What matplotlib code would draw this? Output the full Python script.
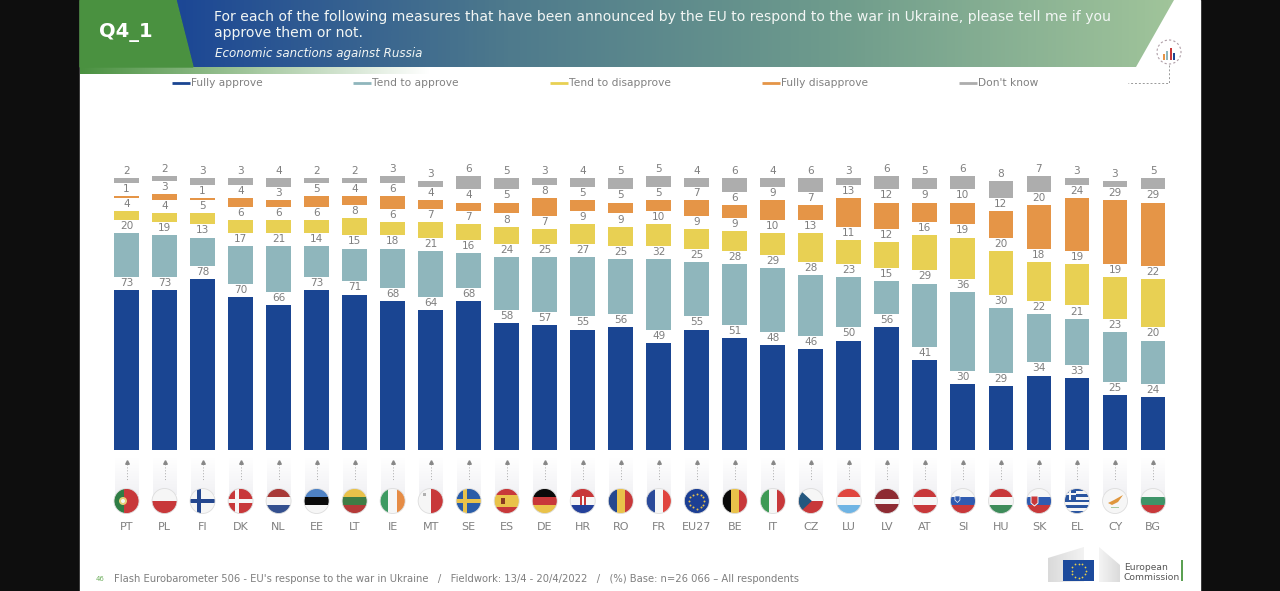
# Q4_1 approval of EU sanctions per country - stacked columns with gaps
import numpy as np
import matplotlib
matplotlib.use("Agg")
import matplotlib.pyplot as plt
from matplotlib.patches import Polygon, Rectangle, Circle
from matplotlib.colors import LinearSegmentedColormap

# Data
countries = ["PT", "PL", "FI", "DK", "NL", "EE", "LT", "IE", "MT", "SE", "ES", "DE", "HR", "RO",
             "FR", "EU27", "BE", "IT", "CZ", "LU", "LV", "AT", "SI", "HU", "SK", "EL", "CY", "BG"]
fully_approve = [73, 73, 78, 70, 66, 73, 71, 68, 64, 68, 58, 57, 55, 56,
                 49, 55, 51, 48, 46, 50, 56, 41, 30, 29, 34, 33, 25, 24]
tend_approve = [20, 19, 13, 17, 21, 14, 15, 18, 21, 16, 24, 25, 27, 25,
                32, 25, 28, 29, 28, 23, 15, 29, 36, 30, 22, 21, 23, 20]
tend_disapprove = [4, 4, 5, 6, 6, 6, 8, 6, 7, 7, 8, 7, 9, 9,
                   10, 9, 9, 10, 13, 11, 12, 16, 19, 20, 18, 19, 19, 22]
fully_disapprove = [1, 3, 1, 4, 3, 5, 4, 6, 4, 4, 5, 8, 5, 5,
                    5, 7, 6, 9, 7, 13, 12, 9, 10, 12, 20, 24, 29, 29]
dont_know = [2, 2, 3, 3, 4, 2, 2, 3, 3, 6, 5, 3, 4, 5,
             5, 4, 6, 4, 6, 3, 6, 5, 6, 8, 7, 3, 3, 5]

series_names = ["Fully approve", "Tend to approve", "Tend to disapprove", "Fully disapprove", "Don't know"]
series_values = [fully_approve, tend_approve, tend_disapprove, fully_disapprove, dont_know]
series_colors = ["#1A4592", "#8FB6BC", "#E8D053", "#E59547", "#ADADAD"]
legend_x = [172, 353, 550, 762, 959]

title = ("For each of the following measures that have been announced by the EU to respond to the war in Ukraine, please tell me if you\n"
         "approve them or not.")
subtitle = "Economic sanctions against Russia"
footer = ("Flash Eurobarometer 506 - EU's response to the war in Ukraine   /   "
          "Fieldwork: 13/4 - 20/4/2022   /   (%) Base: n=26 066 – All respondents")

# Flag colours
RED, WHITE, GOLD = "#C8383A", "#F6F6F6", "#E9C24A"
horizontal = {
    "PL": [WHITE, RED], "NL": ["#A83A38", WHITE, "#34508F"], "EE": ["#4F82C4", "#0A0A0A", WHITE],
    "LT": [GOLD, "#3F7D45", "#B53A38"], "ES": [RED, GOLD, GOLD, RED], "DE": ["#0A0A0A", RED, GOLD],
    "HR": [RED, WHITE, "#24409A"], "LU": ["#E0463F", WHITE, "#6FB4E4"], "LV": ["#8E2B33", "#8E2B33", WHITE, "#8E2B33", "#8E2B33"],
    "AT": [RED, WHITE, RED], "SI": [WHITE, "#2F5BB0", RED], "HU": [RED, WHITE, "#3E8C5A"],
    "SK": [WHITE, "#2F5BB0", RED], "BG": [WHITE, "#3E9468", RED], "CZ": [WHITE, RED],
    "EL": ["#2A55A0", WHITE, "#2A55A0", WHITE, "#2A55A0", WHITE, "#2A55A0", WHITE, "#2A55A0"],
}
vertical = {
    "PT": ["#2F7D45", "#2F7D45", RED, RED, RED], "IE": ["#3E9A62", WHITE, "#E68C45"], "MT": [WHITE, RED],
    "RO": ["#24478F", GOLD, RED], "FR": ["#2A4A9A", WHITE, "#E0453F"], "BE": ["#0A0A0A", GOLD, RED],
    "IT": ["#3E9A55", WHITE, RED],
}
crosses = {"FI": (WHITE, "#24478F"), "DK": (RED, WHITE), "SE": ("#2A5CA8", GOLD)}

fig = plt.figure(figsize=(12.8, 5.91), dpi=100, facecolor="#0E0E0E")

# Pixel canvas for the slide furniture
bg = fig.add_axes([0, 0, 1, 1])
bg.set_xlim(0, 1280)
bg.set_ylim(591, 0)
bg.axis("off")
bg.add_patch(Rectangle((80, 0), 1120, 591, color="white", zorder=0))

# Header band
band_cmap = LinearSegmentedColormap.from_list("band", ["#1C4795", "#4E7A8C", "#6F9C8C", "#A0C49A"])
band = bg.imshow(np.linspace(0, 1, 256).reshape(1, -1), cmap=band_cmap, extent=(176, 1174, 67, 0),
                 aspect="auto", zorder=1, interpolation="bilinear")
band.set_clip_path(Polygon([(176, 0), (1174, 0), (1136, 67), (193, 67)], transform=bg.transData))
bg.add_patch(Polygon([(80, 0), (176, 0), (193, 67), (80, 67)], color="#4A9140", zorder=2))
shadow_cmap = LinearSegmentedColormap.from_list("shadow", ["#4A9140", "#FFFFFF"])
bg.imshow(np.linspace(0, 1, 128).reshape(1, -1), cmap=shadow_cmap, extent=(80, 430, 74, 67),
          aspect="auto", zorder=1, interpolation="bilinear")
bg.set_xlim(0, 1280)
bg.set_ylim(591, 0)

bg.text(126, 32, "Q4_1", color="white", fontsize=14, fontweight="bold", ha="center", va="center", zorder=3)
bg.text(214, 25, title, color="#F2F6F4", fontsize=10.12, va="center", linespacing=1.2, zorder=3)
bg.text(215, 54, subtitle, color="#F2F6F4", fontsize=8.6, style="italic", va="center", zorder=3)

# Legend
for name, color, lx in zip(series_names, series_colors, legend_x):
    bg.plot([lx, lx + 18], [83, 83], color=color, lw=2, solid_capstyle="butt")
    bg.text(lx + 19, 83.5, name, color="#808080", fontsize=7.7, va="center")

# Small chart icon top right
bg.add_patch(Circle((1169, 52), 12, fill=False, ec="#B0A0A8", lw=0.8, ls=(0, (2, 2))))
for ix, h, c in [(1163, 6, "#E59547"), (1166, 9, "#8FB6BC"), (1169.5, 12, "#C8383A"), (1173, 7, "#1A4592")]:
    bg.add_patch(Rectangle((ix, 60 - h), 2.4, h, color=c, lw=0))
bg.plot([1169, 1169, 1128], [65, 83, 83], color="#999999", lw=0.7, ls=(0, (2, 2)))

# Stacked columns
BAR_LEFT, BAR_STEP = 126.5, 38.02
BASE_Y, PX_PER_UNIT = 450, 2.19
GAP = 6  # white space between segments, in percent units

ax = fig.add_axes([(BAR_LEFT - BAR_STEP / 2) / 1280, (591 - BASE_Y) / 591,
                   BAR_STEP * len(countries) / 1280, 130 * PX_PER_UNIT / 591])
ax.patch.set_alpha(0)
x = np.arange(len(countries))
bottom = np.zeros(len(countries))
for name, values, color in zip(series_names, series_values, series_colors):
    bars = ax.bar(x, values, width=0.655, bottom=bottom, color=color, label=name)
    ax.bar_label(bars, labels=[str(v) for v in values], padding=1.5, fontsize=7.6, color="#7F7F7F")
    bottom = bottom + np.array(values) + GAP
ax.set_xlim(-0.5, len(countries) - 0.5)
ax.set_ylim(0, 130)
ax.set_xticks(x)
ax.set_xticklabels(countries, fontsize=8, color="#808080")
ax.tick_params(axis="x", length=0, pad=52)
ax.set_yticks([])
for spine in ax.spines.values():
    spine.set_visible(False)

# Dotted arrows with a pale column behind
fade = LinearSegmentedColormap.from_list("fade", ["#FFFFFF", "#F1F1F4"])
for i in range(len(countries)):
    cx = BAR_LEFT + BAR_STEP * i
    bg.imshow(np.linspace(0, 1, 32).reshape(-1, 1), cmap=fade, extent=(cx - 12, cx + 12, 495, 457),
              aspect="auto", zorder=1)
    bg.plot([cx, cx], [464, 480], color="#AAAAAA", lw=0.7, ls=(0, (1, 2)), zorder=2)
    bg.plot([cx], [462], marker="^", ms=2.6, color="#888888", zorder=2)
bg.set_xlim(0, 1280)
bg.set_ylim(591, 0)

# Flags, clipped to circles
FLAG_Y, R = 501, 12.5
for i, code in enumerate(countries):
    cx = BAR_LEFT + BAR_STEP * i
    clip = Circle((cx, FLAG_Y), R, transform=bg.transData)
    parts = []
    if code in horizontal:
        stripes = horizontal[code]
        for k, c in enumerate(stripes):
            parts.append(Rectangle((cx - R, FLAG_Y - R + k * 2 * R / len(stripes)), 2 * R, 2 * R / len(stripes), color=c, lw=0))
    elif code in vertical:
        stripes = vertical[code]
        for k, c in enumerate(stripes):
            parts.append(Rectangle((cx - R + k * 2 * R / len(stripes), FLAG_Y - R), 2 * R / len(stripes), 2 * R, color=c, lw=0))
    elif code in crosses:
        base, cross = crosses[code]
        parts.append(Rectangle((cx - R, FLAG_Y - R), 2 * R, 2 * R, color=base, lw=0))
        parts.append(Rectangle((cx - R, FLAG_Y - 2), 2 * R, 4, color=cross, lw=0))
        parts.append(Rectangle((cx - 5.5, FLAG_Y - R), 4, 2 * R, color=cross, lw=0))
    elif code == "EU27":
        parts.append(Rectangle((cx - R, FLAG_Y - R), 2 * R, 2 * R, color="#1C3F94", lw=0))
    elif code == "CY":
        parts.append(Rectangle((cx - R, FLAG_Y - R), 2 * R, 2 * R, color=WHITE, lw=0))
        parts.append(Polygon([(cx - 7, FLAG_Y + 2), (cx - 1, FLAG_Y - 1), (cx + 8, FLAG_Y - 6), (cx + 3, FLAG_Y + 1), (cx - 3, FLAG_Y + 4)],
                             color="#E0963C", lw=0))
        parts.append(Rectangle((cx - 4, FLAG_Y + 6), 8, 1, color="#A8C8A0", lw=0))
    # extras on top of the stripes
    if code == "CZ":
        parts.append(Polygon([(cx - R, FLAG_Y - R), (cx + 1, FLAG_Y), (cx - R, FLAG_Y + R)], color="#24577F", lw=0))
    if code == "EL":
        parts.append(Rectangle((cx - R, FLAG_Y - R), 11, 11, color="#2A55A0", lw=0))
        parts.append(Rectangle((cx - R, FLAG_Y - R + 4.5), 11, 2, color=WHITE, lw=0))
        parts.append(Rectangle((cx - R + 4.5, FLAG_Y - R), 2, 11, color=WHITE, lw=0))
    if code == "PT":
        parts.append(Circle((cx - 3.5, FLAG_Y), 4, color="#E6D27A", lw=0))
        parts.append(Circle((cx - 3.5, FLAG_Y), 2, color=WHITE, lw=0))
    if code == "ES":
        parts.append(Rectangle((cx - 6, FLAG_Y - 3), 4, 6, color="#8A3A20", lw=0))
    if code == "HR":
        parts.append(Rectangle((cx - 3, FLAG_Y - 5), 6, 9, color="#C8383A", lw=0))
        parts.append(Rectangle((cx - 1, FLAG_Y - 5), 2, 9, color=WHITE, lw=0))
    if code == "SK":
        parts.append(Polygon([(cx - 8, FLAG_Y - 5), (cx - 1, FLAG_Y - 5), (cx - 1, FLAG_Y + 2), (cx - 4.5, FLAG_Y + 5), (cx - 8, FLAG_Y + 2)],
                             facecolor=RED, edgecolor=WHITE, lw=0.7))
    if code == "SI":
        parts.append(Polygon([(cx - 8, FLAG_Y - 5), (cx - 3, FLAG_Y - 5), (cx - 3, FLAG_Y - 1), (cx - 5.5, FLAG_Y + 1.5), (cx - 8, FLAG_Y - 1)],
                             facecolor="#2F5BB0", edgecolor=WHITE, lw=0.5))
    if code == "MT":
        parts.append(Rectangle((cx - 8, FLAG_Y - 8), 3, 3, color="#B0B0B0", lw=0))
    for p in parts:
        p.set_zorder(3)
        bg.add_patch(p)
        p.set_clip_path(clip)
    # pale outline for the mostly white flags
    bg.add_patch(Circle((cx, FLAG_Y), R, fill=False, ec="#DDDDDD", lw=0.6, zorder=4))
    if code == "EU27":
        angles = np.deg2rad(np.arange(0, 360, 30))
        bg.scatter(cx + 7.5 * np.cos(angles), FLAG_Y + 7.5 * np.sin(angles), s=2, color="#E9C24A", zorder=5, lw=0)

# Footer
bg.text(96, 579, "46", color="#6FAF5F", fontsize=5, va="center")
bg.text(114, 579, footer, color="#7F7F7F", fontsize=7.17, va="center")

# Commission logo
gray_l = LinearSegmentedColormap.from_list("gl", ["#DADADA", "#F4F4F4"])
wing = bg.imshow(np.linspace(0, 1, 64).reshape(1, -1), cmap=gray_l, extent=(1048, 1086, 582, 546), aspect="auto", zorder=2)
wing.set_clip_path(Polygon([(1048, 558), (1084, 547), (1084, 582), (1048, 582)], transform=bg.transData))
wing2 = bg.imshow(np.linspace(1, 0, 64).reshape(1, -1), cmap=gray_l, extent=(1099, 1121, 582, 546), aspect="auto", zorder=2)
wing2.set_clip_path(Polygon([(1099, 547), (1120, 565), (1120, 582), (1099, 582)], transform=bg.transData))
bg.set_xlim(0, 1280)
bg.set_ylim(591, 0)
bg.add_patch(Rectangle((1063, 560), 31, 21, color="#1C4A9C", lw=0, zorder=3))
angles = np.deg2rad(np.arange(0, 360, 30))
bg.scatter(1078.5 + 7 * np.cos(angles), 570.5 + 7 * np.sin(angles), s=1.6, color="#E9D24A", lw=0, zorder=4)
bg.text(1124, 568, "European", color="#555555", fontsize=6.6, va="center")
bg.text(1124, 578, "Commission", color="#555555", fontsize=6.6, va="center")
bg.add_patch(Rectangle((1181, 560), 1.6, 21, color="#5BA052", lw=0, zorder=3))

fig.savefig("out.png", dpi=100, facecolor=fig.get_facecolor())
